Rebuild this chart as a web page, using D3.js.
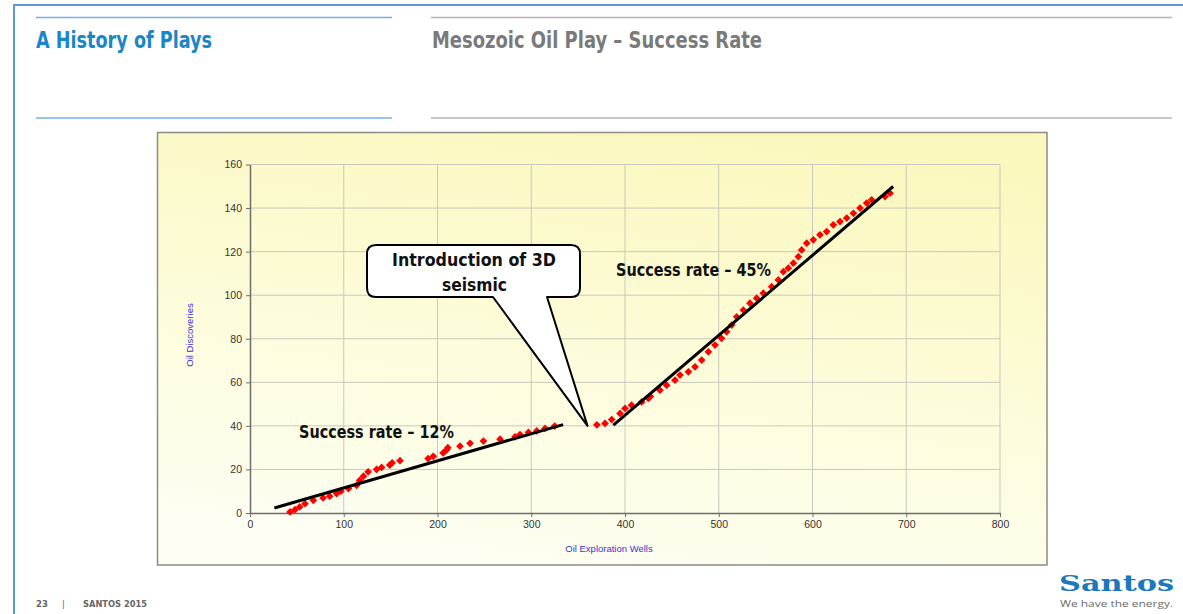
<!DOCTYPE html>
<html><head><meta charset="utf-8">
<script src="https://cdnjs.cloudflare.com/ajax/libs/d3/7.8.5/d3.min.js"></script>
<style>html,body{margin:0;padding:0;background:#fff;}svg{display:block;}</style>
</head><body>
<script>
// ---------- data ----------
const xTicks = [0, 100, 200, 300, 400, 500, 600, 700, 800];
const yTicks = [0, 20, 40, 60, 80, 100, 120, 140, 160];

const preWells = [42.7, 48, 53, 58.7, 67.5, 78, 85, 92.4, 97, 105, 113.7, 117, 121, 126, 135, 140.4, 149, 151.6, 160,
  190, 195.5, 206, 209.8, 211, 224, 234.7, 249, 266.7, 282.7, 288, 297, 305.8, 314.7, 325];
const preDisc = [0.5, 1.5, 2.8, 4.3, 5.8, 6.9, 7.7, 8.9, 10, 11.2, 12.7, 15, 16.9, 18.9, 20, 20.9, 22, 23, 24,
  25, 26, 27.6, 29, 30, 30.7, 32, 33, 33.9, 35, 36, 37, 37.7, 38.8, 39.9];

const postWells = [370, 378.7, 385.8, 394.7, 400, 407, 417.8, 424.9, 427, 437.3, 444.4, 453.3, 458.7, 467.6, 474.7, 481.8,
  488.9, 496, 503, 508.4, 513.8, 519.1, 526.2, 533.3, 540.4, 547.5, 556.4, 563.5, 568.9, 574.2, 579.6, 584.9,
  588.4, 593.8, 600.9, 608, 615.1, 622.2, 629.3, 636.5, 643.6, 650.7, 657.8, 663.1, 677.3, 682.7];
const postDisc = [40.5, 41.1, 42.9, 45.7, 48, 49.5, 51, 52.6, 53.5, 56.4, 58.7, 61, 63.3, 64.8, 67.1, 70.2,
  74, 77.1, 80.2, 83.2, 86.3, 90.1, 93.2, 96.3, 98.6, 100.9, 103.9, 107, 110.8, 112.4, 114.7, 117.7,
  120.8, 123.9, 125.4, 127.7, 129.2, 132.3, 133.8, 135.4, 137.6, 140, 142.3, 143.8, 145.3, 146.8];

const trendPreX = [26, 334], trendPreY = [2.3, 40.6];
const trendPostX = [387.6, 686], trendPostY = [40.3, 149.9];

const labelPre = "Success rate \u2013 12%";
const labelPost = "Success rate \u2013 45%";
const calloutLines = ["Introduction of 3D", "seismic"];
const calloutTip = [360, 40];

// ---------- drawing ----------
const W = 1183, H = 614;
const svg = d3.select("body").append("svg").attr("width", W).attr("height", H);
const defs = svg.append("defs");
const grad = defs.append("linearGradient").attr("id", "bg")
  .attr("x1", "0.35").attr("y1", "1").attr("x2", "0.65").attr("y2", "0");
grad.append("stop").attr("offset", "0").attr("stop-color", "#fefef3");
grad.append("stop").attr("offset", "0.45").attr("stop-color", "#fdfcdc");
grad.append("stop").attr("offset", "1").attr("stop-color", "#faf8bd");

// slide frame
svg.append("rect").attr("x", 14).attr("y", 5).attr("width", W + 20).attr("height", H + 20)
  .attr("fill", "none").attr("stroke", "#5f97d6").attr("stroke-width", 2);

// header lines
[17.5, 118].forEach(yy => {
  svg.append("line").attr("x1", 36).attr("x2", 392).attr("y1", yy).attr("y2", yy)
    .attr("stroke", "#72b2e2").attr("stroke-width", 1.5);
  svg.append("line").attr("x1", 431).attr("x2", 1172).attr("y1", yy).attr("y2", yy)
    .attr("stroke", "#b4b4b4").attr("stroke-width", 1.5);
});
const hdrFont = "'DejaVu Sans Condensed','DejaVu Sans',sans-serif";
svg.append("text").attr("x", 36).attr("y", 48).text("A History of Plays")
  .attr("font-family", hdrFont).attr("font-weight", "bold").attr("font-size", 23)
  .attr("fill", "#1a86c9").attr("textLength", 176).attr("lengthAdjust", "spacingAndGlyphs");
svg.append("text").attr("x", 432).attr("y", 48).text("Mesozoic Oil Play \u2013 Success Rate")
  .attr("font-family", hdrFont).attr("font-weight", "bold").attr("font-size", 23)
  .attr("fill", "#7a7a7a").attr("textLength", 330).attr("lengthAdjust", "spacingAndGlyphs");

// chart box
svg.append("rect").attr("x", 157.5).attr("y", 132.5).attr("width", 889.5).attr("height", 432.5)
  .attr("fill", "url(#bg)").attr("stroke", "#8c8c84").attr("stroke-width", 1.5);

const x = d3.scaleLinear().domain([0, 800]).range([250, 1000]);
const y = d3.scaleLinear().domain([0, 160]).range([513, 164.5]);

// gridlines
const g = svg.append("g");
g.selectAll(".vg").data(xTicks.filter(d => d > 0)).join("line")
  .attr("x1", d => x(d)).attr("x2", d => x(d)).attr("y1", y(0)).attr("y2", y(160))
  .attr("stroke", "#c9c9bd").attr("stroke-width", 1);
g.selectAll(".hg").data(yTicks.filter(d => d > 0)).join("line")
  .attr("x1", x(0)).attr("x2", x(800)).attr("y1", d => y(d)).attr("y2", d => y(d))
  .attr("stroke", "#c9c9bd").attr("stroke-width", 1);

// axes
const axFont = "'Liberation Sans', Arial, sans-serif";
const xAxis = svg.append("g").attr("transform", `translate(0,${y(0)})`)
  .call(d3.axisBottom(x).tickValues(xTicks).tickSize(4).tickSizeOuter(0).tickPadding(4));
const yAxis = svg.append("g").attr("transform", `translate(${x(0)},0)`)
  .call(d3.axisLeft(y).tickValues(yTicks).tickSize(4).tickSizeOuter(0).tickPadding(4));
[xAxis, yAxis].forEach(a => {
  a.select(".domain").attr("stroke", "#6e6e6e").attr("stroke-width", 1.5);
  a.selectAll(".tick line").attr("stroke", "#6e6e6e");
  a.selectAll(".tick text").attr("font-family", axFont).attr("font-size", 10.5).attr("fill", "#333");
});

svg.append("text").attr("x", 609).attr("y", 552).attr("text-anchor", "middle")
  .text("Oil Exploration Wells").attr("font-family", axFont).attr("font-size", 9.5).attr("fill", "#3535d6");
svg.append("text").attr("transform", "translate(193,335) rotate(-90)").attr("text-anchor", "middle")
  .text("Oil Discoveries").attr("font-family", axFont).attr("font-size", 9.5).attr("fill", "#3535d6");

// markers
const diamond = d3.symbol().type(d3.symbolSquare).size(30);
const pre = preWells.map((w, i) => [w, preDisc[i]]);
const post = postWells.map((w, i) => [w, postDisc[i]]);
svg.append("g").selectAll("path").data(pre.concat(post)).join("path")
  .attr("d", diamond)
  .attr("transform", d => `translate(${x(d[0])},${y(d[1])}) rotate(45)`)
  .attr("fill", "#ff0000");

// trend lines
const line = d3.line().x(d => x(d[0])).y(d => y(d[1]));
[[trendPreX, trendPreY], [trendPostX, trendPostY]].forEach(([xs, ys]) => {
  svg.append("path").attr("d", line(xs.map((v, i) => [v, ys[i]])))
    .attr("stroke", "#000").attr("stroke-width", 3).attr("fill", "none");
});

// labels
svg.append("text").attr("x", 299).attr("y", 438).text(labelPre)
  .attr("font-family", hdrFont).attr("font-weight", "bold").attr("font-size", 17.5)
  .attr("fill", "#111").attr("textLength", 155).attr("lengthAdjust", "spacingAndGlyphs");
svg.append("text").attr("x", 616).attr("y", 276).text(labelPost)
  .attr("font-family", hdrFont).attr("font-weight", "bold").attr("font-size", 17.5)
  .attr("fill", "#111").attr("textLength", 155).attr("lengthAdjust", "spacingAndGlyphs");

// callout
const bx0 = 367, bx1 = 580, by0 = 245, by1 = 297, r = 9;
const tx = x(calloutTip[0]), ty = y(calloutTip[1]);
const p = d3.path();
p.moveTo(bx0 + r, by0);
p.lineTo(bx1 - r, by0); p.quadraticCurveTo(bx1, by0, bx1, by0 + r);
p.lineTo(bx1, by1 - r); p.quadraticCurveTo(bx1, by1, bx1 - r, by1);
p.lineTo(547, by1); p.lineTo(tx, ty); p.lineTo(493, by1);
p.lineTo(bx0 + r, by1); p.quadraticCurveTo(bx0, by1, bx0, by1 - r);
p.lineTo(bx0, by0 + r); p.quadraticCurveTo(bx0, by0, bx0 + r, by0);
p.closePath();
svg.append("path").attr("d", p.toString()).attr("fill", "#fff").attr("stroke", "#000")
  .attr("stroke-width", 2).attr("stroke-linejoin", "round");
svg.append("text").attr("x", 392).attr("y", 266).text(calloutLines[0])
  .attr("font-family", hdrFont).attr("font-weight", "bold").attr("font-size", 18.5)
  .attr("fill", "#111").attr("textLength", 164).attr("lengthAdjust", "spacingAndGlyphs");
svg.append("text").attr("x", 442).attr("y", 291).text(calloutLines[1])
  .attr("font-family", hdrFont).attr("font-weight", "bold").attr("font-size", 18.5)
  .attr("fill", "#111").attr("textLength", 65).attr("lengthAdjust", "spacingAndGlyphs");

// footer
const ft = svg.append("g").attr("font-family", hdrFont).attr("font-weight", "bold")
  .attr("font-size", 9.5).attr("fill", "#666");
ft.append("text").attr("x", 36).attr("y", 607).text("23");
ft.append("text").attr("x", 62).attr("y", 607).text("|").attr("font-weight", "normal");
ft.append("text").attr("x", 83).attr("y", 607).text("SANTOS 2015").attr("textLength", 64)
  .attr("lengthAdjust", "spacingAndGlyphs");

// logo
svg.append("text").attr("x", 1059).attr("y", 591).text("Santos")
  .attr("font-family", "'DejaVu Serif', serif").attr("font-weight", "bold").attr("font-size", 22)
  .attr("fill", "#1b78bd").attr("textLength", 115).attr("lengthAdjust", "spacingAndGlyphs");
svg.append("text").attr("x", 1060).attr("y", 607).text("We have the energy.")
  .attr("font-family", "'Open Sans', sans-serif").attr("font-size", 9.5)
  .attr("fill", "#6a6a6a").attr("textLength", 113).attr("lengthAdjust", "spacingAndGlyphs");
</script>
</body></html>
